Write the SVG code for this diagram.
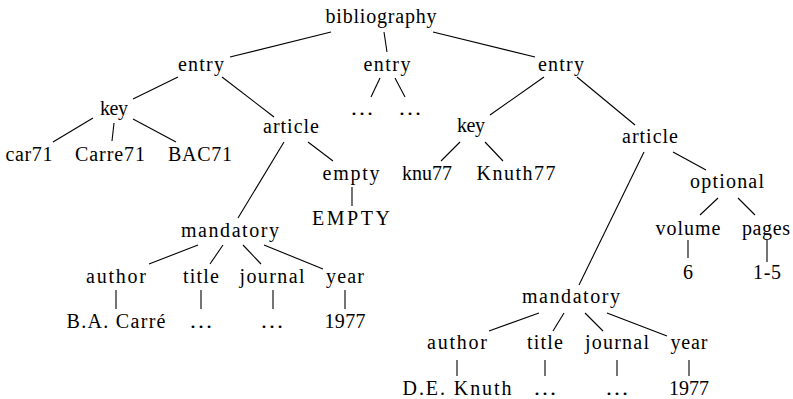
<svg xmlns="http://www.w3.org/2000/svg" width="793" height="399" viewBox="0 0 793 399" font-family="Liberation Serif, DejaVu Serif, serif">
<style>
text{font-size:20px;fill:#000;text-anchor:middle}
.e line{stroke:#000;stroke-width:1.1}
</style>
<rect width="793" height="399" fill="#fff"/>
<g class="e" id="edges">
<line x1="331" y1="32" x2="230" y2="57"/>
<line x1="384" y1="32" x2="387" y2="52"/>
<line x1="433" y1="32" x2="535" y2="57"/>
<line x1="178" y1="77" x2="133" y2="99"/>
<line x1="222" y1="77" x2="274" y2="117"/>
<line x1="93" y1="118" x2="53" y2="142"/>
<line x1="114" y1="123" x2="112" y2="141"/>
<line x1="133" y1="119" x2="176" y2="142"/>
<line x1="380" y1="78" x2="371" y2="97"/>
<line x1="395" y1="78" x2="405" y2="97"/>
<line x1="284" y1="142" x2="238" y2="218"/>
<line x1="308" y1="142" x2="333" y2="161"/>
<line x1="352" y1="187" x2="352" y2="206"/>
<line x1="198" y1="245" x2="149" y2="264"/>
<line x1="223" y1="245" x2="210" y2="264"/>
<line x1="243" y1="245" x2="261" y2="264"/>
<line x1="264" y1="245" x2="323" y2="269"/>
<line x1="116" y1="290" x2="116" y2="309"/>
<line x1="201" y1="290" x2="201" y2="309"/>
<line x1="273" y1="290" x2="273" y2="309"/>
<line x1="345" y1="290" x2="345" y2="309"/>
<line x1="544" y1="77" x2="490" y2="115"/>
<line x1="577" y1="77" x2="635" y2="125"/>
<line x1="460" y1="142" x2="441" y2="161"/>
<line x1="485" y1="142" x2="503" y2="161"/>
<line x1="644" y1="152" x2="579" y2="285"/>
<line x1="673" y1="152" x2="706" y2="170"/>
<line x1="718" y1="198" x2="700" y2="215"/>
<line x1="738" y1="198" x2="755" y2="215"/>
<line x1="688" y1="240" x2="688" y2="258"/>
<line x1="767" y1="240" x2="767" y2="262"/>
<line x1="539" y1="313" x2="489" y2="331"/>
<line x1="564" y1="313" x2="553" y2="331"/>
<line x1="585" y1="313" x2="603" y2="331"/>
<line x1="607" y1="313" x2="667" y2="336"/>
<line x1="457" y1="360" x2="457" y2="376"/>
<line x1="545" y1="360" x2="545" y2="376"/>
<line x1="617" y1="360" x2="617" y2="376"/>
<line x1="689" y1="360" x2="689" y2="376"/>
</g>
<g id="n-bibliography"><text x="381" y="23" textLength="111">bibliography</text></g>
<g id="n-entry1"><text x="201" y="71" textLength="46">entry</text></g>
<g id="n-entry2"><text x="387" y="71" textLength="47">entry</text></g>
<g id="n-entry3"><text x="561" y="71" textLength="46">entry</text></g>
<g id="n-key1"><text x="114" y="115" textLength="28">key</text></g>
<g id="n-dots1"><text x="362" y="115" textLength="24" lengthAdjust="spacingAndGlyphs">…</text></g>
<g id="n-dots2"><text x="410" y="115" textLength="24" lengthAdjust="spacingAndGlyphs">…</text></g>
<g id="n-car71"><text x="29" y="161" textLength="47">car71</text></g>
<g id="n-carre71"><text x="110" y="161" textLength="70">Carre71</text></g>
<g id="n-bac71"><text x="200" y="161" textLength="64">BAC71</text></g>
<g id="n-article1"><text x="291" y="133" textLength="56">article</text></g>
<g id="n-empty"><text x="351" y="180" textLength="57">empty</text></g>
<g id="n-EMPTY"><text x="351" y="225" textLength="78">EMPTY</text></g>
<g id="n-mandatory1"><text x="230" y="237" textLength="98">mandatory</text></g>
<g id="n-author1"><text x="116" y="283" textLength="60">author</text></g>
<g id="n-title1"><text x="201" y="283" textLength="36">title</text></g>
<g id="n-journal1"><text x="272" y="283" textLength="65">journal</text></g>
<g id="n-year1"><text x="345" y="283" textLength="38">year</text></g>
<g id="n-bacarre"><text x="116" y="328" textLength="99">B.A. Carré</text></g>
<g id="n-dots3"><text x="201" y="328" textLength="24" lengthAdjust="spacingAndGlyphs">…</text></g>
<g id="n-dots4"><text x="272" y="328" textLength="24" lengthAdjust="spacingAndGlyphs">…</text></g>
<g id="n-1977a"><text x="345" y="328" textLength="41">1977</text></g>
<g id="n-key2"><text x="471" y="132" textLength="28">key</text></g>
<g id="n-knu77"><text x="427" y="180" textLength="50">knu77</text></g>
<g id="n-knuth77"><text x="516" y="180" textLength="79">Knuth77</text></g>
<g id="n-article2"><text x="650" y="143" textLength="56">article</text></g>
<g id="n-optional"><text x="727" y="188" textLength="74">optional</text></g>
<g id="n-volume"><text x="688" y="235" textLength="65">volume</text></g>
<g id="n-pages"><text x="766" y="235" textLength="48">pages</text></g>
<g id="n-6"><text x="688" y="279">6</text></g>
<g id="n-1-5"><text x="767" y="279" textLength="28">1-5</text></g>
<g id="n-mandatory2"><text x="571" y="303" textLength="98">mandatory</text></g>
<g id="n-author2"><text x="457" y="349" textLength="60">author</text></g>
<g id="n-title2"><text x="545" y="349" textLength="36">title</text></g>
<g id="n-journal2"><text x="617" y="349" textLength="64">journal</text></g>
<g id="n-year2"><text x="689" y="349" textLength="37">year</text></g>
<g id="n-deknuth"><text x="457" y="395" textLength="109">D.E. Knuth</text></g>
<g id="n-dots5"><text x="545" y="395" textLength="24" lengthAdjust="spacingAndGlyphs">…</text></g>
<g id="n-dots6"><text x="617" y="395" textLength="24" lengthAdjust="spacingAndGlyphs">…</text></g>
<g id="n-1977b"><text x="689" y="395" textLength="40">1977</text></g>
</svg>
